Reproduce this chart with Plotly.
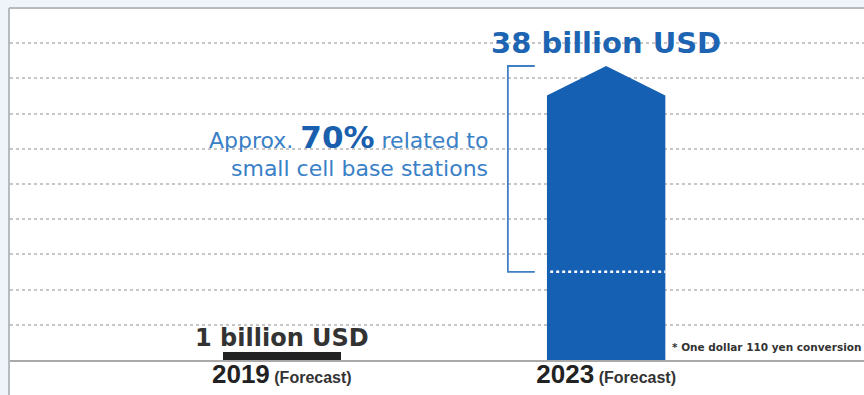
import plotly.graph_objects as go

# =====================================================
# DATA
# =====================================================

years = ["2019", "2023"]
year_notes = ["(Forecast)", "(Forecast)"]
market_busd = [1, 38]
value_labels = ["1 billion USD", "38 billion USD"]
small_cell_share = 0.70
note_text = "* One dollar 110 yen conversion"

# =====================================================
# STYLE
# =====================================================

BLUE = "#1660b3"
LIGHT_BLUE = "#3a80c6"
DARK = "#222222"
BAR_W = 0.365
HEAD = 0.10          # arrow head height as share of value

x_pos = list(range(len(years)))

fig = go.Figure()

# 2019 bar (thin dark bar)
fig.add_trace(
    go.Bar(
        x=[x_pos[0]],
        y=[market_busd[0]],
        width=BAR_W,
        marker=dict(color=DARK, line=dict(width=0)),
        hoverinfo="skip"
    )
)

# 2023 bar drawn as an arrow
c = x_pos[1]
v = market_busd[1]
shoulder = v * (1 - HEAD)
fig.add_trace(
    go.Scatter(
        x=[c - BAR_W / 2, c - BAR_W / 2, c, c + BAR_W / 2, c + BAR_W / 2, c - BAR_W / 2],
        y=[0, shoulder, v, shoulder, 0, 0],
        mode="lines",
        fill="toself",
        fillcolor=BLUE,
        line=dict(color=BLUE, width=0),
        hoverinfo="skip"
    )
)

# split between small cell share and rest
split = v * (1 - small_cell_share)
fig.add_trace(
    go.Scatter(
        x=[c - BAR_W / 2 + 0.01, c + BAR_W / 2],
        y=[split, split],
        mode="lines",
        line=dict(color="white", width=2.5, dash="dot"),
        hoverinfo="skip"
    )
)

# bracket
fig.add_trace(
    go.Scatter(
        x=[c - 0.22, c - 0.303, c - 0.303, c - 0.22],
        y=[v, v, split, split],
        mode="lines",
        line=dict(color="#3f7fc2", width=1.8),
        hoverinfo="skip"
    )
)

# =====================================================
# TEXT
# =====================================================

fig.add_annotation(
    x=x_pos[1], y=market_busd[1], yshift=23,
    text="<b>" + value_labels[1] + "</b>",
    showarrow=False, yanchor="middle",
    font=dict(family="DejaVu Sans", size=29, color="#1d64b2")
)

fig.add_annotation(
    x=x_pos[0], y=market_busd[0], yshift=14,
    text="<b>" + value_labels[0] + "</b>",
    showarrow=False, yanchor="middle",
    font=dict(family="DejaVu Sans", size=24, color="#333333")
)

pct = f"{small_cell_share * 100:.0f}%"
fig.add_annotation(
    xref="paper", yref="paper", x=0.562, y=0.635,
    text="Approx. <b><span style='font-size:31px;color:#1a5fae'>" + pct + "</span></b> related to",
    showarrow=False, xanchor="right", yanchor="middle",
    font=dict(family="DejaVu Sans", size=22, color=LIGHT_BLUE)
)
fig.add_annotation(
    xref="paper", yref="paper", x=0.562, y=0.547,
    text="small cell base stations",
    showarrow=False, xanchor="right", yanchor="middle",
    font=dict(family="DejaVu Sans", size=22, color=LIGHT_BLUE)
)

fig.add_annotation(
    xref="paper", yref="paper", x=0.773, y=0.037,
    text="<b>" + note_text + "</b>",
    showarrow=False, xanchor="left", yanchor="middle",
    font=dict(family="DejaVu Sans", size=10.5, color="#333333")
)

# =====================================================
# FRAME
# =====================================================

frame_y = 1 + 1 / 351
frame_x = -1 / 854
fig.add_shape(type="rect", xref="paper", yref="paper",
              x0=0, x1=1.01, y0=-35 / 351, y1=0,
              fillcolor="white", line=dict(width=0), layer="below")
fig.add_shape(type="line", xref="paper", yref="paper",
              x0=frame_x, x1=frame_x, y0=-0.2, y1=frame_y,
              line=dict(color="#b7bbbf", width=2))
fig.add_shape(type="line", xref="paper", yref="paper",
              x0=frame_x, x1=1.01, y0=frame_y, y1=frame_y,
              line=dict(color="#b7bbbf", width=2))

# =====================================================
# LAYOUT
# =====================================================

tick_text = [
    f"<b>{y}<span style='font-size:16px;color:#333333'> {n}</span></b>"
    for y, n in zip(years, year_notes)
]

fig.update_xaxes(
    range=[-0.838, 1.795],
    tickvals=x_pos,
    ticktext=tick_text,
    tickfont=dict(family="Arial", size=26, color=DARK),
    showgrid=False,
    zeroline=False,
    showline=True,
    linecolor="#a9a9a9",
    linewidth=2,
    ticks="",
    ticklabelstandoff=-10
)

fig.update_yaxes(
    range=[0, 45.37],
    tick0=0,
    dtick=4.55,
    showgrid=True,
    gridcolor="#c6c6c6",
    gridwidth=1.5,
    griddash="dot",
    showticklabels=False,
    zeroline=False
)

fig.update_layout(
    width=864,
    height=395,
    margin=dict(l=10, r=0, t=9, b=35),
    paper_bgcolor="#eef4f9",
    plot_bgcolor="white",
    showlegend=False,
    bargap=0
)

# page has a default 8px body margin, drop it so the chart fills the window
fig.write_html(
    "out.html",
    config={"displayModeBar": False},
    post_script="document.body.style.margin='0';"
)
